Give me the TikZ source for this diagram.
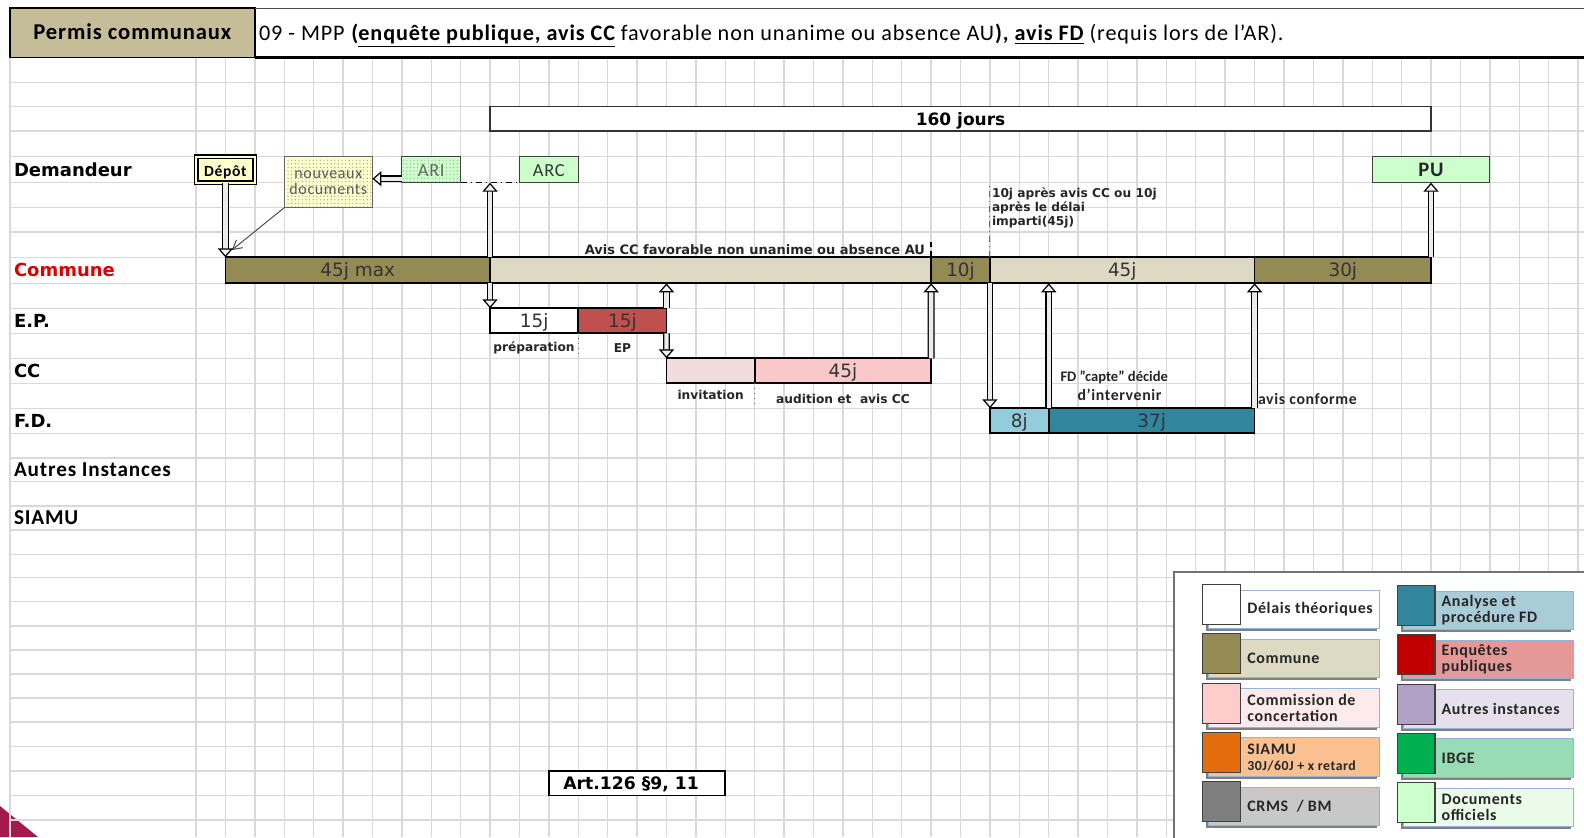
\documentclass[tikz,border=0pt]{standalone}
\usepackage{fontspec}
\setmainfont{Carlito}[LetterSpace=4]
\newfontfamily\verd{DejaVu Sans}
\usepackage{tikz}
\usetikzlibrary{arrows.meta,fit,positioning,patterns.meta,shadows}
\definecolor{gridgray}{RGB}{217,217,217}
\definecolor{permistan}{RGB}{196,189,151}
\definecolor{comdark}{RGB}{148,138,84}
\definecolor{comlight}{RGB}{221,217,195}
\definecolor{epred}{RGB}{192,80,77}
\definecolor{ccpink}{RGB}{250,200,200}
\definecolor{ccpale}{RGB}{242,220,219}
\definecolor{fdlight}{RGB}{146,205,220}
\definecolor{fddark}{RGB}{49,133,156}
\definecolor{docgreen}{RGB}{204,255,204}
\definecolor{depotyellow}{RGB}{255,255,204}
\definecolor{labelred}{RGB}{220,0,0}
\definecolor{legblue}{RGB}{149,179,215}
\definecolor{crimson}{RGB}{166,25,75}
% legend colours
\definecolor{ccsq}{RGB}{255,204,204}
\definecolor{ccbg}{RGB}{253,234,234}
\definecolor{siamusq}{RGB}{228,108,10}
\definecolor{siamubg}{RGB}{250,192,144}
\definecolor{crmssq}{RGB}{127,127,127}
\definecolor{crmsbg}{RGB}{200,200,200}
\definecolor{fdbg}{RGB}{168,204,216}
\definecolor{epsq}{RGB}{192,0,0}
\definecolor{epbg}{RGB}{229,152,152}
\definecolor{autsq}{RGB}{178,161,199}
\definecolor{autbg}{RGB}{229,224,236}
\definecolor{ibgesq}{RGB}{0,176,80}
\definecolor{ibgebg}{RGB}{152,220,182}
\definecolor{docbg}{RGB}{234,251,234}
\newcommand\col[1]{196+29.405*#1} % left edge of sheet column #1

\begin{document}
\begin{tikzpicture}[x=0.5pt,y=-0.5pt,% 1 unit = 1 pixel of the sheet, y downwards
	every node/.style={inner sep=0pt, outer sep=0pt},
	gridline/.style={draw=gridgray, line width=0.7pt},
	bar/.style={rectangle, draw=black, line width=0.9pt},
	bartxt/.style={font=\verd\fontsize{9.2}{11}\selectfont, text=black!80, text height=1.34ex, text depth=0pt},
	docbox/.style={rectangle, draw=black!75, line width=0.6pt},
	hollow/.style={draw=black, line width=0.6pt, double=gray!15, double distance=2.2pt,
		-{Triangle[length=4.5pt, width=7.6pt, line width=0.6pt, fill=gray!10]}},
	rowlabel/.style={anchor=west, font=\verd\bfseries\fontsize{9}{11}\selectfont,
		text height=1.34ex, text depth=0pt},
	rowlabelb/.style={anchor=west, font=\bfseries\fontsize{10.6}{12}\selectfont,
		text height=1.38ex, text depth=0pt},
	note/.style={font=\verd\bfseries\fontsize{6.1}{7}\selectfont, text=black!85},
	remark/.style={font=\bfseries\fontsize{7.9}{9.5}\selectfont, text=black!85},
	sep/.style={draw=black!60, line width=0.5pt, dotted},
	legbg/.style={rectangle, draw=legblue, line width=0.5pt,
		drop shadow={shadow xshift=-1.2pt, shadow yshift=-1.2pt, fill=black!50, opacity=1}},
	legsq/.style={rectangle, draw=black!75, line width=0.6pt},
	legtxt/.style={anchor=west, align=left, font=\bfseries\fontsize{8}{7.9}\selectfont, text=black!85}
	]
\useasboundingbox (0,0) rectangle (1584,837);
% corner mark
\fill[crimson] (0,806) -- (38,837) -- (0,837) -- cycle;
% sheet grid
\foreach \i in {0,...,47}
	\draw[gridline] ({\col{\i}},57.5) -- ({\col{\i}},837);
\foreach \y in {82.3,106.7,131,156.7,182.7,207.7,232,257.3,283.3,308.3,333.3,358.3,383.3,408.3,433.3,458,481.7,506,530,554.3,577.7,601.7,626,650,674,698,722,746.5,771,795.5,820}
	\draw[gridline] (10,\y) -- (1584,\y);
\draw[gridline] (10,57.5) -- (10,837);

% header
\node[rectangle, fill=permistan, draw=black, line width=0.8pt, fit={(10,8) ({\col{2}},57.5)},
	label={[font=\bfseries\fontsize{11.3}{13}\selectfont, text height=1.38ex, text depth=0pt]center:{Permis communaux}}] (permis) {};
\draw[black!70, line width=0.5pt] (permis.north east) -- (1584,8);
\draw[black, line width=1.1pt] (permis.south east) -- (1584,57.5);
\node[anchor=west, font=\fontsize{11.1}{13}\selectfont, text height=1.38ex, text depth=0pt] (titre) at (259,33.5)
	{09 - MPP \textbf{(\underline{enquête publique, avis CC}} favorable non unanime ou absence AU\textbf{), \underline{avis FD}} (requis lors de l'AR).};

% row labels
\node[rowlabel] (ldem) at (14,170) {Demandeur};
\node[rowlabel, text=labelred] (lcom) at (14,270.3) {Commune};
\node[rowlabel] (lep) at (14,320.8) {E.P.};
\node[rowlabel] (lcc) at (14,370.8) {CC};
\node[rowlabel] (lfd) at (14,420.8) {F.D.};
\node[rowlabelb] (laut) at (14,470) {Autres Instances};
\node[rowlabelb] (lsiamu) at (14,518) {SIAMU};

% total duration
\node[docbox, draw=black!80, fill=white, fit={({\col{10}},106.7) ({\col{42}},131)},
	label={[bartxt, font=\verd\bfseries\fontsize{8.5}{10}\selectfont, text=black]center:{160 jours}}] (total) {};

% Demandeur
\node[docbox, draw=black, line width=0.7pt, fill=depotyellow, double=depotyellow, double distance=1.1pt,
	fit={({\col{0}},156.7) ({\col{2}},182.7)},
	label={[font=\bfseries\fontsize{7.8}{9}\selectfont, text height=1.38ex, text depth=0pt]center:{Dépôt}}] (depot) {};
\node[docbox, draw=black!60, preaction={fill=depotyellow}, pattern={Dots[distance=1.8pt,radius=0.3pt]}, pattern color=black!45,
	fit={({\col{3}},156.7) ({\col{6}},207.7)},
	label={[align=center, font=\fontsize{8}{8}\selectfont, text=black!65]center:{nouveaux\\documents}}] (nouv) {};
\node[docbox, preaction={fill=docgreen}, pattern={Dots[distance=1.8pt,radius=0.3pt]}, pattern color=black!40,
	fit={({\col{7}},156.7) ({\col{9}},182.7)},
	label={[font=\fontsize{9.2}{11}\selectfont, text=black!60, text height=1.38ex, text depth=0pt]center:{ARI}}] (ari) {};
\node[docbox, fill=docgreen, fit={({\col{11}},156.7) ({\col{13}},182.7)},
	label={[font=\fontsize{9.2}{11}\selectfont, text=black!80, text height=1.38ex, text depth=0pt]center:{ARC}}] (arc) {};
\node[docbox, fill=docgreen, fit={({\col{40}},156.7) ({\col{44}},182.7)},
	label={[font=\bfseries\fontsize{10.3}{12}\selectfont, text=black!85, text height=1.38ex, text depth=0pt]center:{PU}}] (pu) {};

% Commune
\node[bar, fill=comdark, fit={({\col{1}},257.3) ({\col{10}},283.3)}, label={[bartxt]center:{45j max}}] (c45max) {};
\node[bar, fill=comlight, fit={({\col{10}},257.3) ({\col{25}},283.3)}] (cavis) {};
\node[bar, fill=comdark, fit={({\col{25}},257.3) ({\col{27}},283.3)}, label={[bartxt]center:{10j}}] (c10j) {};
\node[bar, fill=comlight, fit={({\col{27}},257.3) ({\col{36}},283.3)}, label={[bartxt]center:{45j}}] (c45j) {};
\node[bar, fill=comdark, fit={({\col{36}},257.3) ({\col{42}},283.3)}, label={[bartxt]center:{30j}}] (c30j) {};
\node[note, font=\verd\bfseries\fontsize{6.5}{7}\selectfont, anchor=east, text height=1.34ex, text depth=0pt] (avis) at (925,248.3) {Avis CC favorable non unanime ou absence AU};

% E.P.
\node[bar, fill=white, fit={({\col{10}},308.3) ({\col{13}},333.3)}, label={[bartxt]center:{15j}}] (ep1) {};
\node[bar, fill=epred, fit={({\col{13}},308.3) ({\col{16}},333.3)}, label={[bartxt]center:{15j}}] (ep2) {};
\node[note] (prep) at (534,348.3) {préparation};
\node[note] (eptxt) at (622.4,348.3) {EP};

% CC
\node[bar, fill=ccpale, fit={({\col{16}},358.3) ({\col{19}},383.3)}] (cc1) {};
\node[bar, fill=ccpink, fit={({\col{19}},358.3) ({\col{25}},383.3)}, label={[bartxt]center:{45j}}] (cc2) {};
\node[note] (invit) at (710.6,395) {invitation};
\node[note] (audit) at (843,399) {audition et\ \ avis CC};

% F.D.
\node[bar, fill=fdlight, fit={({\col{27}},408.3) ({\col{29}},433.3)}, label={[bartxt]center:{8j}}] (fd1) {};
\node[bar, fill=fddark, fit={({\col{29}},408.3) ({\col{36}},433.3)}, label={[bartxt]center:{37j}}] (fd2) {};
\node[note, anchor=west, align=left] (delai) at (992,208) {10j après avis CC ou 10j\\après le délai\\imparti(45j)};
\node[remark, anchor=west, align=left] (capte) at (1060.5,385.5) {{\addfontfeature{LetterSpace=0}\fontsize{7.3}{9.5}\selectfont FD "capte" décide}\\\hspace*{8.5pt}d'intervenir};
\node[remark, anchor=west, text height=1.38ex, text depth=0pt] (conforme) at (1258,398) {avis conforme};

% separators
\draw[black, line width=0.8pt, densely dashed] (cavis.north east) -- (cavis.north east |- avis.north);
\draw[sep] (ep1.south east) -- (ep1.south east |- cc1.north);
\draw[sep] (cc2.south west) -- (cc2.south west |- fd1.north);
\draw[black!60, line width=0.5pt, dash dot] (c45j.north west) -- (c45j.north west |- arc.south);
\draw[black, line width=0.5pt, dash dot] (ari.south east) -- (arc.south west);

% connectors
\coordinate (aritip) at ([yshift=2pt]ari.south west);
\draw[hollow] (aritip) -- (aritip -| nouv.east);
\draw[black!70, line width=0.5pt, -{Straight Barb[length=4.5pt,width=5pt]}] (nouv.south west) -- ([xshift=3.2pt,yshift=3.6pt]c45max.north west);
\draw[hollow] (depot) -- (c45max.north west);
\draw[hollow] (cavis.north west) -- (cavis.north west |- ari.south);
\draw[hollow] (cavis.south west) -- (ep1.north west);
\draw[hollow] (ep2.north east) -- (ep2.north east |- cavis.south);
\draw[hollow] (ep2.south east) -- (cc1.north west);
\draw[hollow] (cc2.north east) -- (cavis.south east);
\draw[hollow] (c45j.south west) -- (fd1.north west);
\draw[hollow] (fd1.north east) -- (fd1.north east |- c45j.south);
\draw[hollow] (fd2.north east) -- (c45j.south east);
\draw[hollow] (c30j.north east) -- (pu);

% reference
\node[docbox, draw=black, line width=0.9pt, fill=white, fit={({\col{12}},771) ({\col{18}},795.5)},
	label={[font=\verd\bfseries\fontsize{8.6}{10}\selectfont, text height=1.34ex, text depth=0pt, xshift=-3pt]center:{Art.126 §9, 11}}] (art) {};

% legend
\draw[line width=1.1pt, draw=black!55, fill=white] (1174,572) rectangle (1600,850);
\foreach \sq/\bg/\txt [count=\k from 0] in {white/white/{Délais théoriques}, comdark/comlight/{Commune},
	ccsq/ccbg/{Commission de\\concertation}, siamusq/siamubg/{SIAMU\\{\fontsize{6.9}{7.9}\selectfont 30J/60J + x retard}},
	crmssq/crmsbg/{CRMS~ / BM}}
{
	\node[legbg, fill=\bg, fit={(1208.2,{590+49.3*\k}) (1379.3,{628.5+49.3*\k})}] (lbgl\k) {};
	\node[legsq, fill=\sq, fit={(1202.7,{584.5+49.3*\k}) (1240.7,{624.5+49.3*\k})}] (lsql\k) {};
	\node[legtxt, xshift=3.3pt] at (lsql\k.east |- lbgl\k.center) {\txt};
}
\foreach \sq/\bg/\txt [count=\k from 0] in {fddark/fdbg/{Analyse et\\procédure FD}, epsq/epbg/{Enquêtes\\publiques},
	autsq/autbg/{Autres instances}, ibgesq/ibgebg/{IBGE}, docgreen/docbg/{Documents\\officiels}}
{
	\node[legbg, fill=\bg, fit={(1403.3,{591+49.3*\k}) (1573.3,{629.5+49.3*\k})}] (lbgr\k) {};
	\node[legsq, fill=\sq, fit={(1397.7,{585.5+49.3*\k}) (1435,{625.5+49.3*\k})}] (lsqr\k) {};
	\node[legtxt, xshift=3.3pt] at (lsqr\k.east |- lbgr\k.center) {\txt};
}
\end{tikzpicture}
\end{document}
